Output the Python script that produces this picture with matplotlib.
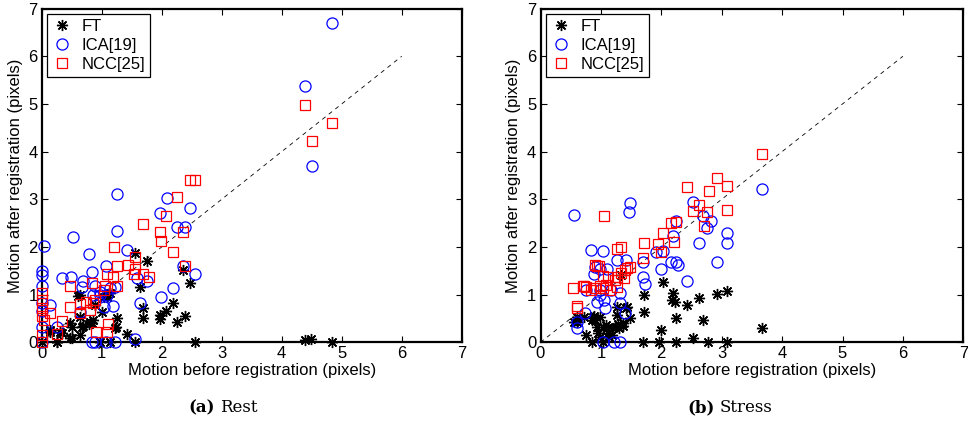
import matplotlib
matplotlib.use("Agg")
import matplotlib.pyplot as plt
from matplotlib.offsetbox import TextArea, HPacker, AnnotationBbox

plt.rcParams['font.family'] = ['Liberation Sans', 'DejaVu Sans']

# ---------------- data: (a) Rest ----------------
rest_ft_x = [0, 0.14, 0.14, 0.25, 0.26, 0.30, 0.33, 0.47, 0.50, 0.50, 0.47, 0.61, 0.64, 0.67, 0.64, 0.63,
             0.69, 0.79, 0.80, 0.83, 0.86, 0.89, 1.00, 0.97, 1.03, 1.08, 1.14, 1.14, 1.25, 1.24, 1.22,
             1.42, 1.56, 1.56, 1.64, 1.68, 1.69, 1.75, 1.97, 1.97, 2.07, 2.19, 2.26, 2.36, 2.39, 2.47,
             2.56, 4.39, 4.49, 4.84]
rest_ft_y = [0, 0.26, 0.22, 0, 0.01, 0.22, 0.19, 0.41, 0.33, 0.08, 0.08, 0.97, 0.54, 0.33, 0.15, 0.99,
             0.34, 0.38, 0.43, 0.41, 0.47, 0.78, 0.64, 0, 0.94, 0.96, 1.03, 0, 0.52, 0.33, 0.29,
             0.17, 1.88, 0, 1.15, 0.71, 0.50, 1.71, 0.57, 0.48, 0.66, 0.83, 0.43, 1.52, 0.55, 1.24,
             0, 0.05, 0.07, 0.0]

rest_ica_x = [0, 0, 0, 0, 0, 0, 0, 0.03, 0.13, 0.25, 0.33, 0.48, 0.52, 0.64, 0.67, 0.69, 0.79, 0.83,
              0.83, 0.85, 0.88, 0.89, 0.97, 0.97, 1.03, 1.07, 1.07, 1.08, 1.14, 1.19, 1.22, 1.22,
              1.25, 1.26, 1.42, 1.56, 1.58, 1.64, 1.75, 1.97, 1.98, 2.08, 2.19, 2.25, 2.36, 2.39,
              2.47, 2.56, 4.39, 4.50, 4.84]
rest_ica_y = [0, 0.33, 0.66, 0.82, 1.18, 1.41, 1.50, 2.03, 0.78, 0.33, 1.34, 1.38, 2.21, 0.64, 1.15,
              1.29, 1.85, 1.48, 0, 0.99, 0, 1.18, 1.06, 0.99, 0.75, 1.60, 0, 0.99, 1.13, 0.76, 1.17, 0,
              2.34, 3.11, 1.94, 0.06, 1.34, 0.83, 1.29, 2.71, 0.96, 3.02, 1.13, 2.41, 1.60, 2.41,
              2.81, 1.43, 5.37, 3.70, 6.70]

rest_ncc_x = [0, 0, 0, 0, 0, 0, 0.03, 0.14, 0.25, 0.33, 0.47, 0.47, 0.63, 0.64, 0.74, 0.81, 0.83,
              0.85, 0.89, 0.91, 1.03, 1.06, 1.08, 1.08, 1.11, 1.19, 1.21, 1.26, 1.25, 1.44, 1.53,
              1.56, 1.56, 1.69, 1.69, 1.78, 1.97, 1.98, 2.07, 2.19, 2.26, 2.36, 2.39, 2.47, 2.56,
              4.39, 4.50, 4.84]
rest_ncc_y = [0, 0.15, 0.55, 0.71, 0.89, 1.03, 0.47, 0.61, 0.17, 0.45, 0.75, 1.18, 0.61, 0.80, 0.85,
              0.68, 1.24, 0.82, 0.89, 0.22, 1.10, 1.18, 1.43, 0.22, 0.38, 1.38, 1.99, 1.18, 1.60,
              1.62, 1.43, 1.78, 1.53, 1.43, 2.49, 1.36, 2.32, 2.13, 2.65, 1.90, 3.04, 2.31, 1.60,
              3.41, 3.41, 4.97, 4.22, 4.59]

# ---------------- data: (b) Stress ----------------
stress_ft_x = [0.56, 0.60, 0.61, 0.72, 0.75, 0.85, 0.85, 0.87, 0.89, 0.90, 0.94, 0.96, 0.99, 0.99,
               1.04, 1.04, 1.09, 1.10, 1.11, 1.14, 1.19, 1.20, 1.23, 1.26, 1.27, 1.29, 1.30, 1.33,
               1.36, 1.37, 1.42, 1.43, 1.49, 1.70, 1.71, 1.71, 1.97, 1.99, 2.03, 2.17, 2.20, 2.23,
               2.24, 2.25, 2.42, 2.52, 2.63, 2.69, 2.78, 2.93, 3.09, 3.09, 3.66]
stress_ft_y = [0.43, 0.43, 0.54, 0.54, 0.15, 0.47, 0.01, 0.54, 0.55, 0.47, 0.33, 0.19, 0.54, 0.12,
               0.33, 0, 0.36, 0.29, 0.19, 0.12, 0.15, 0.31, 0.33, 0.57, 0.75, 0.38, 0.29, 1.41,
               0.40, 0.34, 0.71, 0.75, 0.52, 0, 0.99, 0.64, 0, 0.26, 1.27, 0.89, 1.03, 0.85,
               0.52, 0, 0.78, 0.10, 0.92, 0.47, 0, 1.01, 1.08, 0, 0.29]

stress_ica_x = [0.55, 0.60, 0.61, 0.74, 0.75, 0.83, 0.89, 0.90, 0.94, 0.98, 0.99, 0.99, 1.04, 1.04,
                1.05, 1.07, 1.07, 1.10, 1.16, 1.21, 1.27, 1.32, 1.32, 1.32, 1.40, 1.42, 1.47, 1.48,
                1.70, 1.70, 1.73, 1.92, 1.99, 2.03, 2.16, 2.20, 2.24, 2.25, 2.28, 2.43, 2.52, 2.62,
                2.69, 2.76, 2.82, 2.93, 3.09, 3.09, 3.66]
stress_ica_y = [2.67, 0.29, 0.43, 0.61, 1.10, 1.94, 1.43, 1.57, 0.85, 0.99, 1.53, 1.10, 1.92, 0,
                0.89, 0.71, 5.74, 1.53, 1.10, 0, 1.73, 1.03, 0.82, 0, 0.61, 1.73, 2.74, 2.92,
                1.69, 1.36, 1.22, 1.90, 1.53, 1.92, 1.69, 2.23, 2.55, 1.69, 1.62, 1.29, 2.95, 2.09,
                2.65, 2.39, 2.55, 1.69, 2.30, 2.08, 3.21]

stress_ncc_x = [0.54, 0.61, 0.61, 0.71, 0.72, 0.76, 0.83, 0.90, 0.90, 0.94, 0.97, 0.99, 1.04, 1.04,
                1.05, 1.09, 1.11, 1.15, 1.23, 1.26, 1.27, 1.27, 1.33, 1.33, 1.38, 1.40, 1.44, 1.48,
                1.70, 1.71, 1.95, 1.99, 2.03, 2.16, 2.21, 2.25, 2.42, 2.53, 2.63, 2.70, 2.76, 2.79,
                2.93, 3.09, 3.09, 3.66]
stress_ncc_y = [1.13, 0.71, 0.76, 1.18, 1.18, 1.15, 1.10, 1.62, 1.13, 1.60, 1.60, 1.18, 1.39, 1.13,
                2.65, 1.20, 1.38, 1.10, 1.31, 1.17, 1.95, 1.38, 2.00, 1.46, 1.34, 1.52, 1.55, 1.59,
                1.76, 2.09, 2.06, 1.90, 2.30, 2.50, 2.11, 2.53, 3.25, 2.76, 2.88, 2.44, 2.74, 3.18,
                3.45, 3.27, 2.77, 3.96]

labels = ['FT', 'ICA[19]', 'NCC[25]']
ticks = [0, 1, 2, 3, 4, 5, 6, 7]
diag = [0, 6]
xlabel = 'Motion before registration (pixels)'
ylabel = 'Motion after registration (pixels)'
captions = [('(a)', 'Rest'), ('(b)', 'Stress')]

fig = plt.figure(figsize=(9.68, 4.22), dpi=100)
ax1 = fig.add_axes([41.7 / 968, 1 - 342.3 / 422, 420 / 968, 333.7 / 422])
ax2 = fig.add_axes([540.5 / 968, 1 - 342.3 / 422, 422.8 / 968, 333.7 / 422])

datasets = [
    (ax1, rest_ft_x, rest_ft_y, rest_ica_x, rest_ica_y, rest_ncc_x, rest_ncc_y),
    (ax2, stress_ft_x, stress_ft_y, stress_ica_x, stress_ica_y, stress_ncc_x, stress_ncc_y),
]

for ax, fx, fy, ix, iy, nx, ny in datasets:
    ax.plot(fx, fy, linestyle='none', marker=(8, 2, 0), ms=8, mec='black', mew=1.0,
            color='black', label=labels[0], clip_on=False, zorder=3)
    ax.plot(ix, iy, linestyle='none', marker='o', ms=8, mfc='none', mec='#0000ff', mew=0.9,
            label=labels[1], clip_on=False, zorder=3)
    ax.plot(nx, ny, linestyle='none', marker='s', ms=6.5, mfc='none', mec='#ff0000', mew=0.9,
            label=labels[2], clip_on=False, zorder=3)
    ax.plot(diag, diag, color='black', lw=0.6, dashes=(5, 5), zorder=2)
    ax.set_xlim(0, 7)
    ax.set_ylim(0, 7)
    ax.set_xticks(ticks)
    ax.set_yticks(ticks)
    ax.tick_params(direction='in', length=4.5, width=0.8, top=True, right=True,
                   labelsize=12, pad=3)
    for s in ax.spines.values():
        s.set_linewidth(1.6)
    ax.set_xlabel(xlabel, fontsize=12, labelpad=1)
    ax.set_ylabel(ylabel, fontsize=12, labelpad=4)
    leg = ax.legend(loc='upper left', fontsize=12, frameon=True, fancybox=False,
                    edgecolor='black', framealpha=1, borderaxespad=0.3, handlelength=1.2,
                    handletextpad=0.6, labelspacing=0.25, borderpad=0.3, numpoints=1)
    leg.get_frame().set_linewidth(0.9)
    leg.set_zorder(5)

cap_x = [223 / 968, 730 / 968]
for (bold, rest), cx in zip(captions, cap_x):
    ta = TextArea(bold, textprops=dict(fontfamily='DejaVu Serif', fontweight='bold', fontsize=12))
    tb = TextArea(rest, textprops=dict(fontfamily='DejaVu Serif', fontsize=12))
    box = HPacker(children=[ta, tb], align='baseline', pad=0, sep=4)
    ab = AnnotationBbox(box, (cx, 1 - 408 / 422), xycoords='figure fraction',
                        frameon=False, box_alignment=(0.5, 0.5))
    fig.add_artist(ab)

fig.savefig('out.png', dpi=100)
